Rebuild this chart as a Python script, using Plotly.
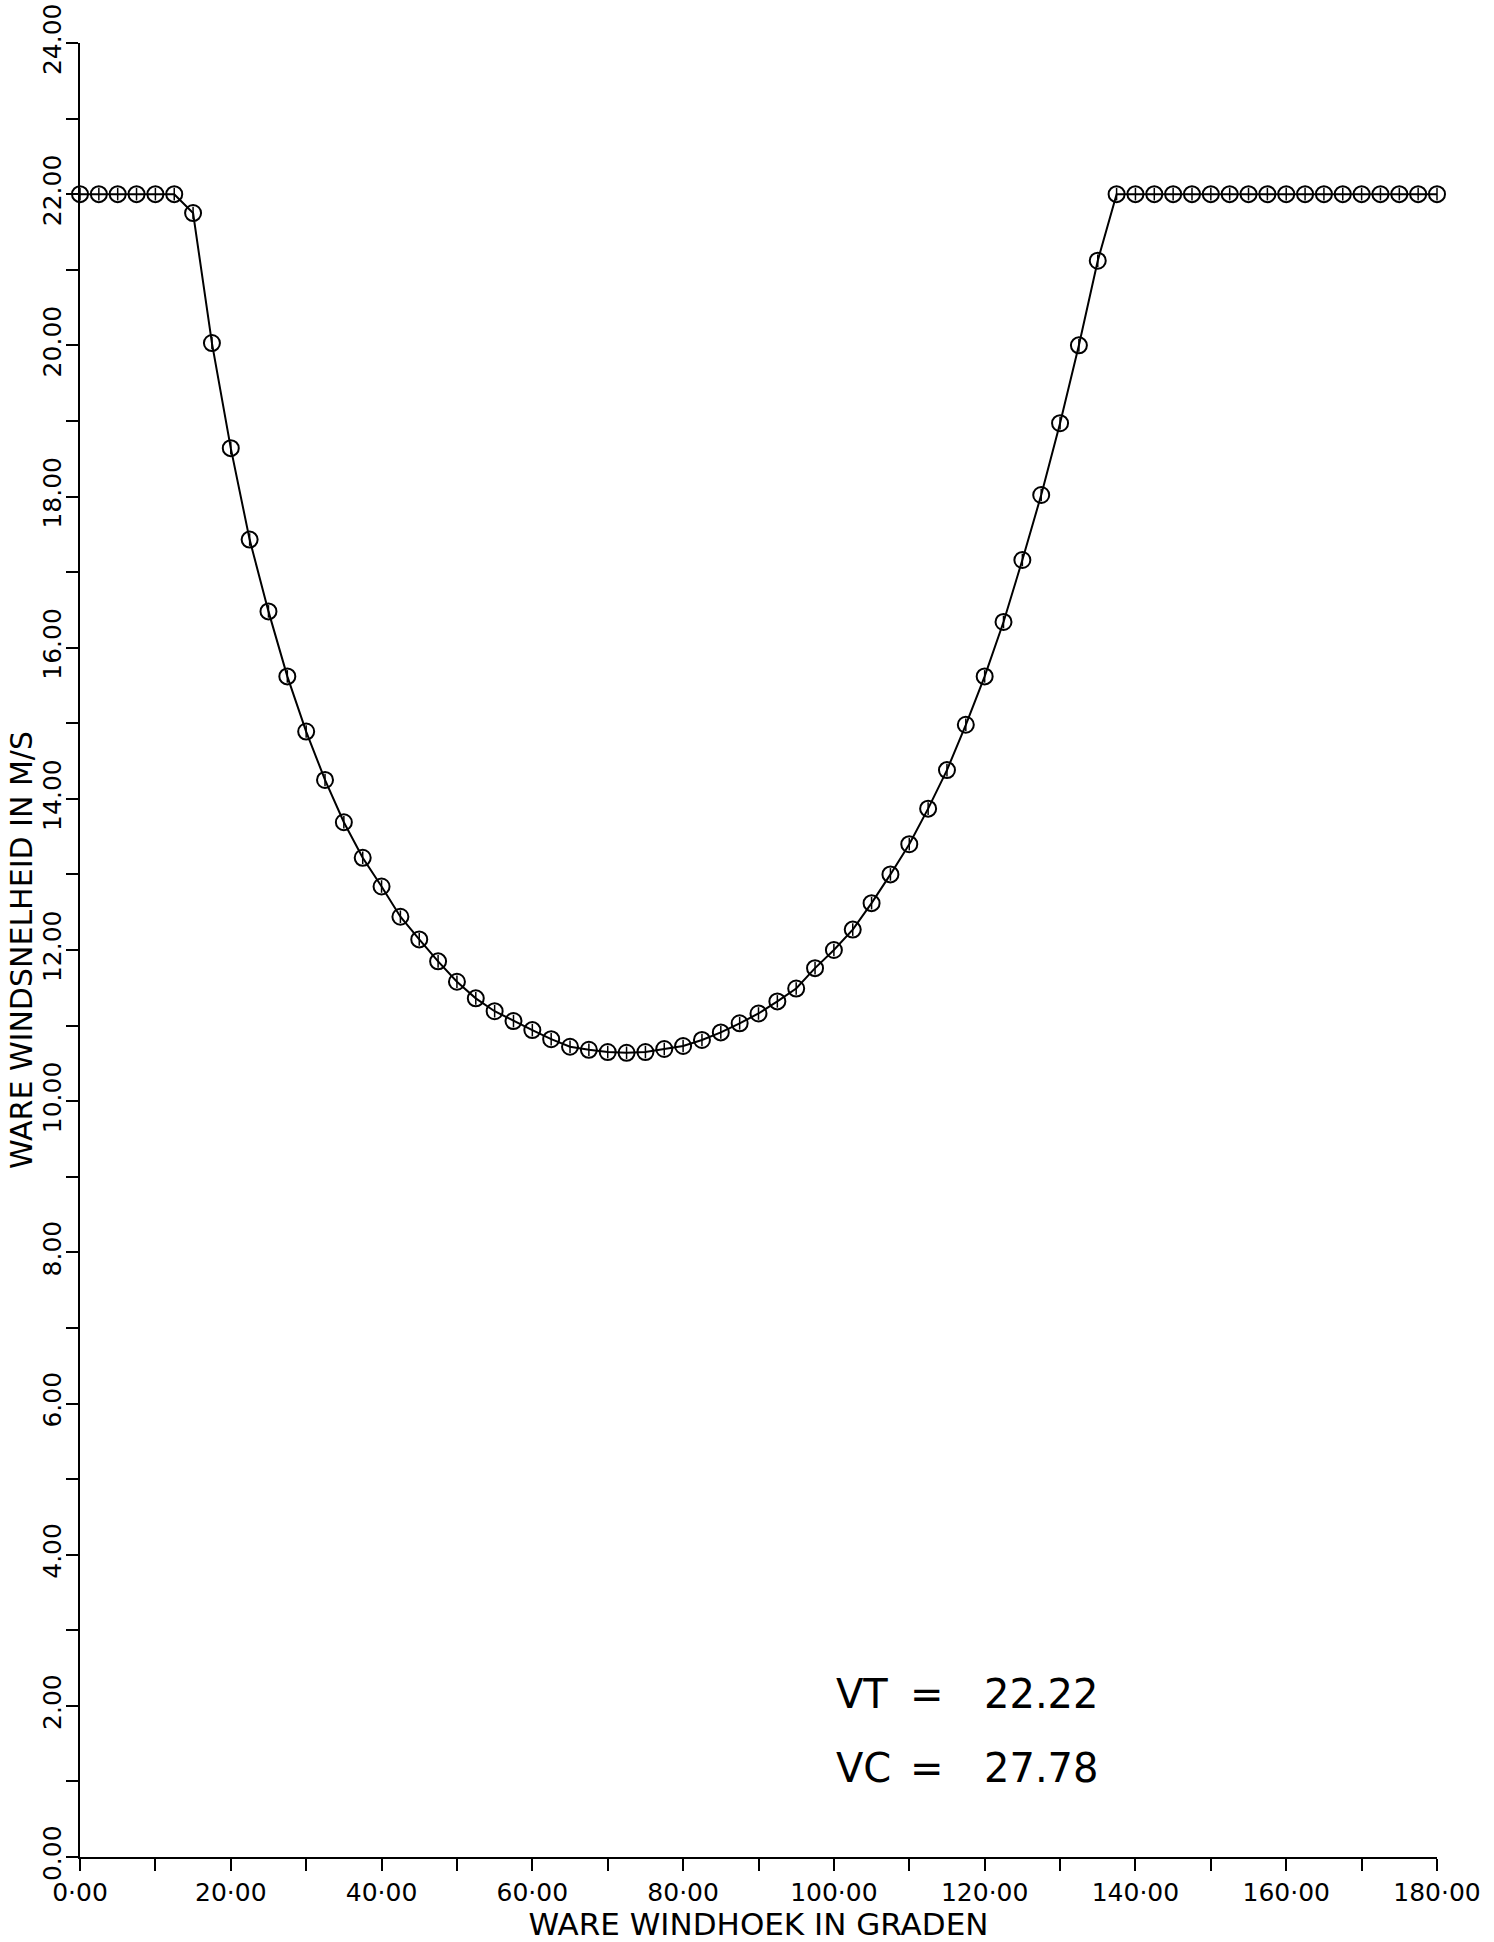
import plotly.graph_objects as go

# True wind angle (degrees)
wind_angle = [0.0, 2.5, 5.0, 7.5, 10.0, 12.5, 15.0, 17.5, 20.0, 22.5, 25.0, 27.5,
              30.0, 32.5, 35.0, 37.5, 40.0, 42.5, 45.0, 47.5, 50.0, 52.5, 55.0, 57.5,
              60.0, 62.5, 65.0, 67.5, 70.0, 72.5, 75.0, 77.5, 80.0, 82.5, 85.0, 87.5,
              90.0, 92.5, 95.0, 97.5, 100.0, 102.5, 105.0, 107.5, 110.0, 112.5, 115.0, 117.5,
              120.0, 122.5, 125.0, 127.5, 130.0, 132.5, 135.0, 137.5, 140.0, 142.5, 145.0, 147.5,
              150.0, 152.5, 155.0, 157.5, 160.0, 162.5, 165.0, 167.5, 170.0, 172.5, 175.0, 177.5,
              180.0]

# True wind speed (m/s)
wind_speed = [22.00, 22.00, 22.00, 22.00, 22.00, 22.00, 21.75, 20.03, 18.64, 17.43, 16.48, 15.62,
              14.89, 14.25, 13.69, 13.22, 12.84, 12.44, 12.14, 11.85, 11.58, 11.36, 11.19, 11.06,
              10.94, 10.82, 10.72, 10.68, 10.65, 10.64, 10.65, 10.69, 10.73, 10.81, 10.91, 11.03,
              11.16, 11.32, 11.49, 11.76, 12.00, 12.27, 12.62, 13.00, 13.40, 13.87, 14.38, 14.98,
              15.62, 16.34, 17.16, 18.02, 18.97, 20.00, 21.12, 22.00, 22.00, 22.00, 22.00, 22.00,
              22.00, 22.00, 22.00, 22.00, 22.00, 22.00, 22.00, 22.00, 22.00, 22.00, 22.00, 22.00,
              22.00]

x_tick_vals = [0, 20, 40, 60, 80, 100, 120, 140, 160, 180]
x_tick_labels = ["0·00", "20·00", "40·00", "60·00", "80·00", "100·00", "120·00", "140·00", "160·00", "180·00"]
x_minor_vals = [10, 30, 50, 70, 90, 110, 130, 150, 170]

y_tick_vals = [0, 2, 4, 6, 8, 10, 12, 14, 16, 18, 20, 22, 24]
y_tick_labels = ["0.00", "2.00", "4.00", "6.00", "8.00", "10.00", "12.00", "14.00", "16.00",
                 "18.00", "20.00", "22.00", "24.00"]
y_minor_vals = [1, 3, 5, 7, 9, 11, 13, 15, 17, 19, 21, 23]

x_title = "WARE WINDHOEK IN GRADEN"
y_title = "WARE WINDSNELHEID IN M/S"

vt_label, vt_value = "VT", "22.22"
vc_label, vc_value = "VC", "27.78"

FONT = "DejaVu Sans"

fig = go.Figure()
fig.add_trace(go.Scatter(
    x=wind_angle, y=wind_speed, mode="lines+markers",
    line=dict(color="black", width=2),
    marker=dict(symbol="circle-open", size=16, color="black", line=dict(width=2, color="black")),
    cliponaxis=False, showlegend=False,
))
fig.add_trace(go.Scatter(
    x=wind_angle, y=wind_speed, mode="markers",
    marker=dict(symbol="line-ns-open", size=9, color="black", line=dict(width=1.5, color="black")),
    cliponaxis=False, showlegend=False,
))

axis_common = dict(
    showline=True, linecolor="black", linewidth=2, mirror=False,
    showgrid=False, zeroline=False,
    ticks="outside", ticklen=12, tickwidth=2, tickcolor="black",
)

fig.update_xaxes(
    range=[0, 180], tickmode="array", tickvals=x_tick_vals, ticktext=x_tick_labels,
    tickfont=dict(family=FONT, size=25, color="black"),
    minor=dict(tickmode="array", tickvals=x_minor_vals, ticks="outside", ticklen=12,
               tickwidth=2, tickcolor="black", showgrid=False),
    title=dict(text=x_title, font=dict(family=FONT, size=31, color="black"), standoff=4),
    **axis_common,
)
fig.update_yaxes(
    range=[0, 24], tickmode="array", tickvals=y_tick_vals, ticktext=y_tick_labels,
    tickangle=-90, ticklabelstandoff=-5,
    tickfont=dict(family=FONT, size=25, color="black"),
    minor=dict(tickmode="array", tickvals=y_minor_vals, ticks="outside", ticklen=12,
               tickwidth=2, tickcolor="black", showgrid=False),
    **axis_common,
)

# y-axis title placed as rotated text left of the tick labels
fig.add_annotation(x=-0.0435, y=0.5, xref="paper", yref="paper", text=y_title,
                   textangle=-90, showarrow=False, xanchor="center", yanchor="middle",
                   font=dict(family=FONT, size=30, color="black"))

ann_font = dict(family=FONT, size=40, color="black")
for lab, val, yv in [(vt_label, vt_value, 2.16), (vc_label, vc_value, 1.18)]:
    fig.add_annotation(x=100.0, y=yv, xref="x", yref="y", text=lab, showarrow=False,
                       xanchor="left", yanchor="middle", font=ann_font)
    fig.add_annotation(x=109.8, y=yv, xref="x", yref="y", text="=", showarrow=False,
                       xanchor="left", yanchor="middle", font=ann_font)
    fig.add_annotation(x=119.6, y=yv, xref="x", yref="y", text=val, showarrow=False,
                       xanchor="left", yanchor="middle", font=ann_font)

fig.update_layout(
    width=1494, height=1942,
    margin=dict(l=80, r=57, t=43, b=85, autoexpand=False),
    paper_bgcolor="white", plot_bgcolor="white",
    font=dict(family=FONT, color="black"),
)

fig.write_html("out.html")
